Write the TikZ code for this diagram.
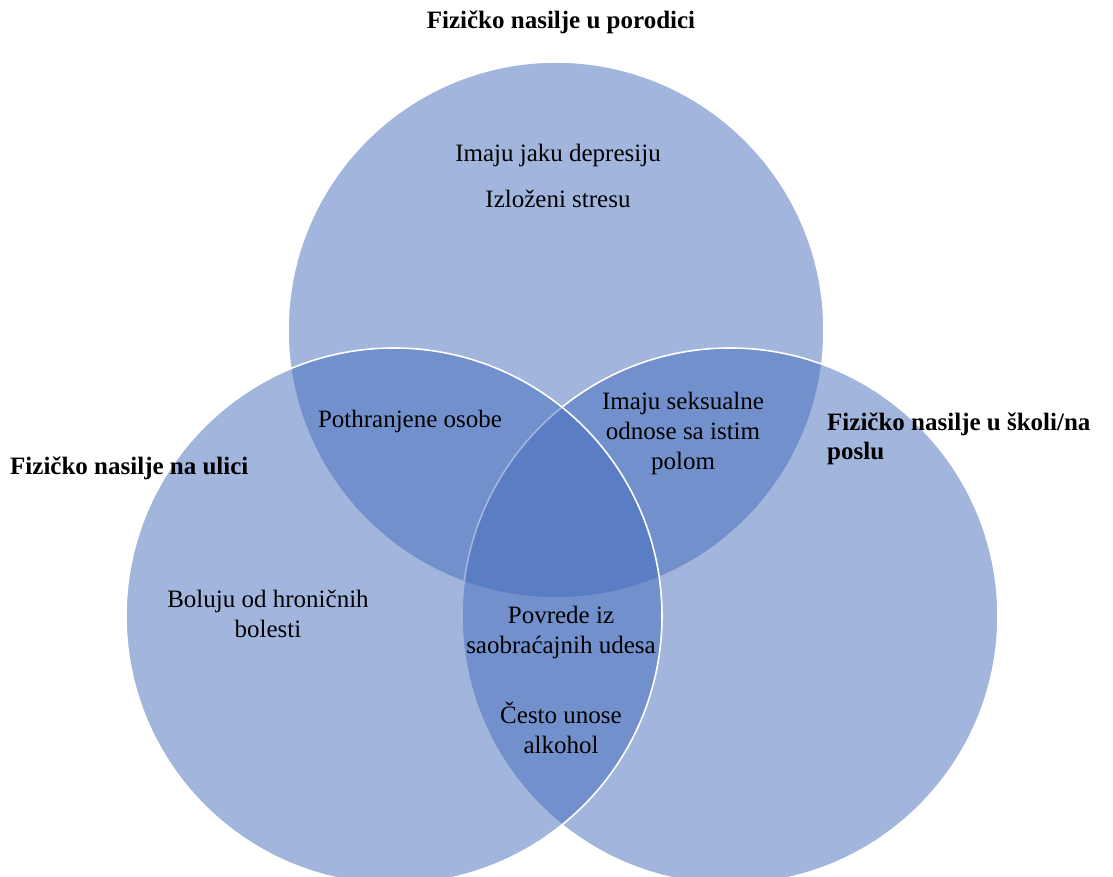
\documentclass[tikz,border=0pt]{standalone}
\usepackage{fontspec}
\setmainfont{Liberation Serif}
\definecolor{vblue}{RGB}{69,108,188}
\begin{document}
\begin{tikzpicture}[x=1pt,y=-1pt,
  venn/.style={fill=vblue,fill opacity=0.5,draw=white,draw opacity=1,line width=1.6pt},
  lbl/.style={font=\fontsize{25}{30}\selectfont,align=center,inner sep=0pt,text=black},
  ttl/.style={font=\fontsize{25}{29}\selectfont\bfseries,inner sep=0pt,text=black}]
\useasboundingbox (0,0) rectangle (1113,877);
\clip (0,0) rectangle (1113,877);
\fill[white] (0,0) rectangle (1113,877);
\path[venn] (556,330) circle[radius=268];
\path[venn] (730,616) circle[radius=268];
\path[venn] (394,616) circle[radius=268];
\node[ttl] (tTop) at (561,22) {Fizičko nasilje u porodici};
\node[ttl,anchor=west] (tLeft) at (10,468) {Fizičko nasilje na ulici};
\node[ttl,anchor=north west,align=left] (tRight) at (827,413) {Fizičko nasilje u školi/na\\poslu};
\node[lbl] (a1) at (558,155) {Imaju jaku depresiju};
\node[lbl] (a2) at (558,199) {Izloženi stresu};
\node[lbl] (b) at (410,421) {Pothranjene osobe};
\node[lbl] (c) at (683,433) {Imaju seksualne\\odnose sa istim\\polom};
\node[lbl] (d) at (268,614) {Boluju od hroničnih\\bolesti};
\node[lbl] (e1) at (561,632) {Povrede iz\\saobraćajnih udesa};
\node[lbl] (e2) at (561,728) {Često unose\\alkohol};
\end{tikzpicture}
\end{document}
